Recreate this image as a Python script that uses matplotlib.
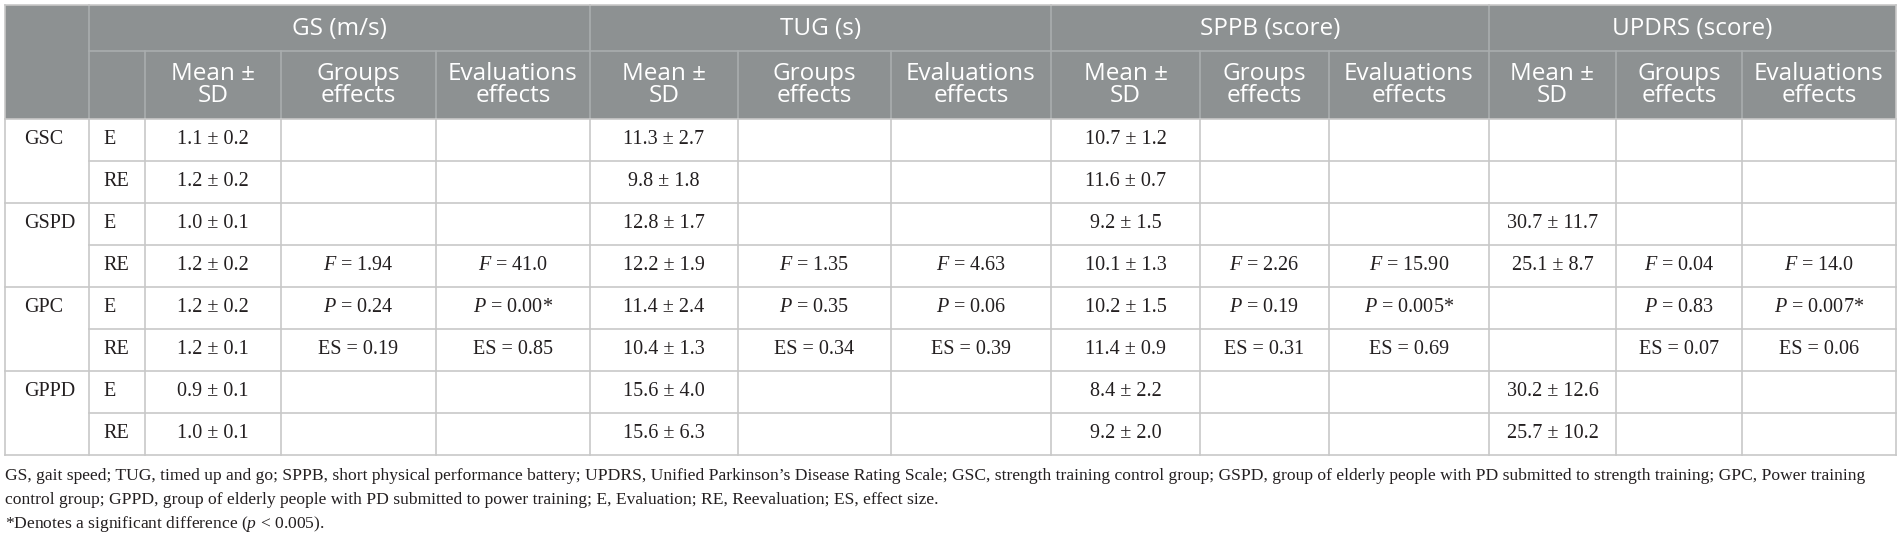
import matplotlib
matplotlib.use("Agg")
import matplotlib.pyplot as plt
from matplotlib.patches import Rectangle

plt.rcParams['mathtext.fontset'] = 'custom'
plt.rcParams['mathtext.it'] = 'Liberation Serif:italic'
plt.rcParams['mathtext.rm'] = 'Liberation Serif'

# ---- data ----
groups = ["GSC", "GSPD", "GPC", "GPPD"]
evals = ["E", "RE"]
measures = ["GS (m/s)", "TUG (s)", "SPPB (score)", "UPDRS (score)"]
sub_headers = ["Mean \u00b1\nSD", "Groups\neffects", "Evaluations\neffects"]

gs_mean = ["1.1 ± 0.2", "1.2 ± 0.2", "1.0 ± 0.1", "1.2 ± 0.2", "1.2 ± 0.2", "1.2 ± 0.1", "0.9 ± 0.1", "1.0 ± 0.1"]
gs_groups = ["", "", "", "$F$ = 1.94", "$P$ = 0.24", "ES = 0.19", "", ""]
gs_evals = ["", "", "", "$F$ = 41.0", "$P$ = 0.00*", "ES = 0.85", "", ""]

tug_mean = ["11.3 ± 2.7", "9.8 ± 1.8", "12.8 ± 1.7", "12.2 ± 1.9", "11.4 ± 2.4", "10.4 ± 1.3", "15.6 ± 4.0", "15.6 ± 6.3"]
tug_groups = ["", "", "", "$F$ = 1.35", "$P$ = 0.35", "ES = 0.34", "", ""]
tug_evals = ["", "", "", "$F$ = 4.63", "$P$ = 0.06", "ES = 0.39", "", ""]

sppb_mean = ["10.7 ± 1.2", "11.6 ± 0.7", "9.2 ± 1.5", "10.1 ± 1.3", "10.2 ± 1.5", "11.4 ± 0.9", "8.4 ± 2.2", "9.2 ± 2.0"]
sppb_groups = ["", "", "", "$F$ = 2.26", "$P$ = 0.19", "ES = 0.31", "", ""]
sppb_evals = ["", "", "", "$F$ = 15.90", "$P$ = 0.005*", "ES = 0.69", "", ""]

updrs_mean = ["", "", "30.7 ± 11.7", "25.1 ± 8.7", "", "", "30.2 ± 12.6", "25.7 ± 10.2"]
updrs_groups = ["", "", "", "$F$ = 0.04", "$P$ = 0.83", "ES = 0.07", "", ""]
updrs_evals = ["", "", "", "$F$ = 14.0", "$P$ = 0.007*", "ES = 0.06", "", ""]

footnotes = [
    "GS, gait speed; TUG, timed up and go; SPPB, short physical performance battery; UPDRS, Unified Parkinson\u2019s Disease Rating Scale; GSC, strength training control group; GSPD, group of elderly people with PD submitted to strength training; GPC, Power training",
    "control group; GPPD, group of elderly people with PD submitted to power training; E, Evaluation; RE, Reevaluation; ES, effect size.",
    "*Denotes a significant difference ($p$ < 0.005).",
]

columns = [gs_mean, gs_groups, gs_evals, tug_mean, tug_groups, tug_evals,
           sppb_mean, sppb_groups, sppb_evals, updrs_mean, updrs_groups, updrs_evals]

# ---- layout (pixels) ----
W, H = 1901, 539
xs = [5, 89, 145, 281, 436, 590, 738, 891, 1051, 1200, 1329, 1489, 1616, 1742, 1896]
y_top, y_h1, y_h2 = 5, 51, 119
row_h = 42
body_rows = len(groups) * len(evals)
y_bot = y_h2 + row_h * body_rows

head_bg = "#8d9192"
head_line = "#a9adae"
grid = "#c8c8c8"
ink = "#231f20"
serif = "Liberation Serif"
sans = "Open Sans"

fig = plt.figure(figsize=(W / 100, H / 100), dpi=100)
ax = fig.add_axes([0, 0, 1, 1])
ax.set_xlim(0, W)
ax.set_ylim(H, 0)
ax.axis("off")

# header background
ax.add_patch(Rectangle((xs[0], y_top), xs[-1] - xs[0], y_h2 - y_top, color=head_bg, lw=0))

# header lines
ax.plot([xs[1], xs[-1]], [y_h1, y_h1], color=head_line, lw=1.2)
for i in [1, 5, 8, 11]:
    ax.plot([xs[i], xs[i]], [y_top, y_h2], color=head_line, lw=1.2)
for i in [2, 3, 4, 6, 7, 9, 10, 12, 13]:
    ax.plot([xs[i], xs[i]], [y_h1, y_h2], color=head_line, lw=1.2)

# measure titles
spans = [(1, 5), (5, 8), (8, 11), (11, 14)]
for name, (a, b) in zip(measures, spans):
    ax.text((xs[a] + xs[b]) / 2, (y_top + y_h1) / 2 + 1, name, ha="center", va="center",
            color="white", fontsize=17.5, family=sans)
for k in range(len(measures)):
    for j, lab in enumerate(sub_headers):
        c = 2 + 3 * k + j
        ax.text((xs[c] + xs[c + 1]) / 2, (y_h1 + y_h2) / 2, lab, ha="center", va="center",
                color="white", fontsize=17.5, family=sans, linespacing=0.85)

# body grid
for r in range(body_rows + 1):
    y = y_h2 + r * row_h
    x0 = xs[0] if r % 2 == 0 else xs[1]
    ax.plot([x0, xs[-1]], [y, y], color=grid, lw=1.2)
for x in xs:
    ax.plot([x, x], [y_h2, y_bot], color=grid, lw=1.2)
ax.plot([xs[0], xs[-1]], [y_top, y_top], color=grid, lw=1.2)
ax.plot([xs[0], xs[0]], [y_top, y_h2], color=grid, lw=1.2)
ax.plot([xs[-1], xs[-1]], [y_top, y_h2], color=grid, lw=1.2)

# body text
fs = 14.5
for g, name in enumerate(groups):
    yc = y_h2 + (2 * g + 0.5) * row_h
    ax.text(xs[0] + 19, yc, name, ha="left", va="center", fontsize=fs, family=serif, color=ink)
    for e, ev in enumerate(evals):
        r = 2 * g + e
        yc = y_h2 + (r + 0.5) * row_h
        ax.text(xs[1] + 14, yc, ev, ha="left", va="center", fontsize=fs, family=serif, color=ink)
        for c, col in enumerate(columns):
            if col[r]:
                ax.text((xs[c + 2] + xs[c + 3]) / 2, yc, col[r], ha="center", va="center",
                        fontsize=fs, family=serif, color=ink)

# footnotes
for i, line in enumerate(footnotes):
    ax.text(xs[0], 476 + 24 * i, line, ha="left", va="center", fontsize=12.6,
            family=serif, color=ink)

fig.savefig("out.png", dpi=100)
